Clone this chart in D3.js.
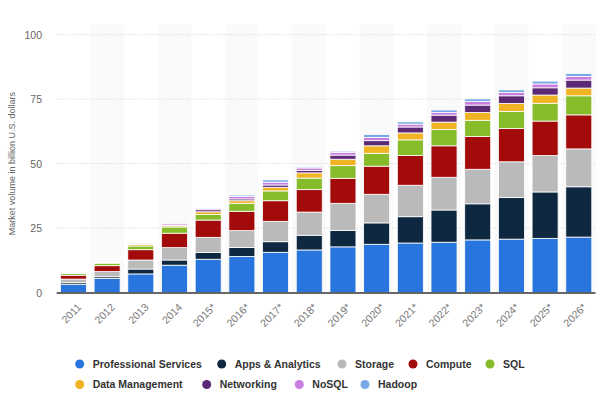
<!DOCTYPE html>
<html>
<head>
<meta charset="utf-8">
<script src="https://cdn.jsdelivr.net/npm/d3@7"></script>
<style>
  body { margin: 0; background: #fff; }
  svg { display: block; font-family: "Liberation Sans", Arial, sans-serif; }
</style>
</head>
<body>
<div id="chart"></div>
<script>
// years on the x axis, * marks forecast
var years = ["2011","2012","2013","2014","2015*","2016*","2017*","2018*","2019*","2020*","2021*","2022*","2023*","2024*","2025*","2026*"];

// segment values in billion U.S. dollars
var professionalServices = [3.2, 5.4, 7.2, 10.6, 12.9, 14.0, 15.6, 16.5, 17.7, 18.7, 19.2, 19.5, 20.4, 20.7, 21.0, 21.5];
var appsAnalytics        = [0.6, 0.7, 1.9, 2.0, 2.6, 3.5, 4.1, 5.7, 6.4, 8.3, 10.2, 12.5, 14.0, 16.1, 18.0, 19.5];
var storage              = [1.4, 2.0, 3.5, 4.8, 5.9, 6.5, 7.9, 9.0, 10.5, 11.1, 12.2, 12.7, 13.4, 13.9, 14.1, 14.7];
var compute              = [1.5, 2.3, 4.0, 5.6, 6.7, 7.5, 8.0, 8.7, 9.7, 10.9, 11.5, 12.2, 12.7, 12.9, 13.4, 13.2];
var sql                  = [0.7, 1.0, 1.45, 2.4, 2.2, 3.1, 3.8, 4.5, 4.9, 5.0, 6.1, 6.3, 6.3, 6.6, 6.9, 7.4];
var dataManagement       = [0.1, 0.1, 0.6, 0.5, 1.0, 1.0, 1.4, 2.0, 2.5, 2.9, 2.7, 2.9, 3.0, 3.1, 3.2, 3.0];
var networking           = [0.05, 0.05, 0.1, 0.3, 0.8, 0.7, 0.9, 0.9, 1.6, 2.0, 2.3, 2.7, 2.9, 3.0, 2.8, 3.1];
var noSql                = [0.05, 0.1, 0.1, 0.6, 0.5, 1.0, 1.1, 1.0, 1.0, 1.2, 1.1, 1.0, 1.4, 1.3, 1.5, 1.4];
var hadoop               = [0.05, 0.05, 0.05, 0.2, 0.2, 0.5, 0.9, 0.4, 0.5, 1.2, 0.9, 1.0, 1.0, 1.0, 1.1, 1.1];

var seriesNames = ["Professional Services","Apps & Analytics","Storage","Compute","SQL","Data Management","Networking","NoSQL","Hadoop"];
var seriesValues = [professionalServices, appsAnalytics, storage, compute, sql, dataManagement, networking, noSql, hadoop];
var seriesColors = ["#2876dd","#0f2841","#bababa","#a30b0b","#86bc2a","#f0b323","#5c2a75","#c97ddf","#78a9e6"];

var yTicks = [0, 25, 50, 75, 100];

var width = 600;
var height = 396;

// build table for d3.stack
var table = years.map(function(yr, i) {
  var row = {year: yr};
  seriesNames.forEach(function(name, s) { row[name] = seriesValues[s][i]; });
  return row;
});

var svg = d3.select("#chart").append("svg")
  .attr("width", width)
  .attr("height", height);

var x = d3.scaleBand()
  .domain(years)
  .range([56.7, 595.5])
  .paddingInner(0.228)
  .paddingOuter(0.11);

var y = d3.scaleLinear()
  .domain([0, 100])
  .range([292.5, 34.7]);

var step = x.step();
var padIn = step * x.paddingInner();

// alternating column shading
svg.append("g").selectAll("rect")
  .data(years.filter(function(d, i) { return i % 2 == 1; }))
  .enter()
  .append("rect")
  .attr("x", function(d) { return x(d) - padIn / 2; })
  .attr("y", y(100) - 10)
  .attr("width", step)
  .attr("height", y(0) - y(100) + 10)
  .attr("fill", "#fafafa");

// grid lines
svg.append("g").selectAll("line")
  .data(yTicks.filter(function(d) { return d > 0; }))
  .enter()
  .append("line")
  .attr("x1", 56.7)
  .attr("x2", 595.5)
  .attr("y1", function(d) { return y(d); })
  .attr("y2", function(d) { return y(d); })
  .attr("stroke", "#cfcfcf")
  .attr("stroke-width", 1)
  .attr("stroke-dasharray", "1,2");

// y axis labels
var yAxis = d3.axisLeft(y).tickValues(yTicks).tickSize(0).tickPadding(0);
var gy = svg.append("g")
  .attr("transform", "translate(42,0)")
  .call(yAxis);
gy.select(".domain").remove();
gy.selectAll("text")
  .attr("fill", "#666")
  .style("font-size", "10.5px")
  .attr("dy", "0.35em");

// y axis title
svg.append("text")
  .attr("transform", "translate(15," + y(50) + ") rotate(-90)")
  .attr("text-anchor", "middle")
  .attr("fill", "#666")
  .style("font-size", "9px")
  .text("Market volume in billion U.S. dollars");

// stacked bars
var stack = d3.stack().keys(seriesNames);
var layers = stack(table);

svg.append("g").selectAll("g")
  .data(layers)
  .enter()
  .append("g")
  .attr("fill", function(d, i) { return seriesColors[i]; })
  .selectAll("rect")
  .data(function(d) { return d; })
  .enter()
  .append("rect")
  .attr("x", function(d) { return x(d.data.year); })
  .attr("y", function(d) { return y(d[1]); })
  .attr("width", x.bandwidth())
  .attr("height", function(d) { return Math.max(0, y(d[0]) - y(d[1])); })
  .attr("stroke", "#fff")
  .attr("stroke-width", 0.8);

// baseline
svg.append("line")
  .attr("x1", 56.7)
  .attr("x2", 595.5)
  .attr("y1", y(0) + 0.5)
  .attr("y2", y(0) + 0.5)
  .attr("stroke", "#333")
  .attr("stroke-width", 1.5);

// x axis labels
var xAxis = d3.axisBottom(x).tickSize(0).tickPadding(0);
var gx = svg.append("g")
  .attr("transform", "translate(0," + (y(0) + 11) + ")")
  .call(xAxis);
gx.select(".domain").remove();
gx.selectAll("text")
  .attr("fill", "#777")
  .style("font-size", "10.5px")
  .attr("text-anchor", "end")
  .attr("dy", "0.6em")
  .attr("transform", "translate(4,0) rotate(-45)");

// legend, two rows, marker positions as in the original layout
var legendRows = [[0, 1, 2, 3, 4], [5, 6, 7, 8]];
var legendX = [[79.7, 221.7, 342, 413, 490], [79.7, 206.7, 299.3, 365]];
var legend = svg.append("g").style("font-size", "10.5px").style("font-weight", "bold");
legendRows.forEach(function(row, r) {
  var cy = 364 + r * 20.5;
  row.forEach(function(s, k) {
    var cx = legendX[r][k];
    var item = legend.append("g");
    item.append("circle")
      .attr("cx", cx)
      .attr("cy", cy)
      .attr("r", 4.5)
      .attr("fill", seriesColors[s]);
    item.append("text")
      .attr("x", cx + 13)
      .attr("y", cy)
      .attr("dy", "0.35em")
      .attr("fill", "#333")
      .text(seriesNames[s]);
  });
});
</script>
</body>
</html>
